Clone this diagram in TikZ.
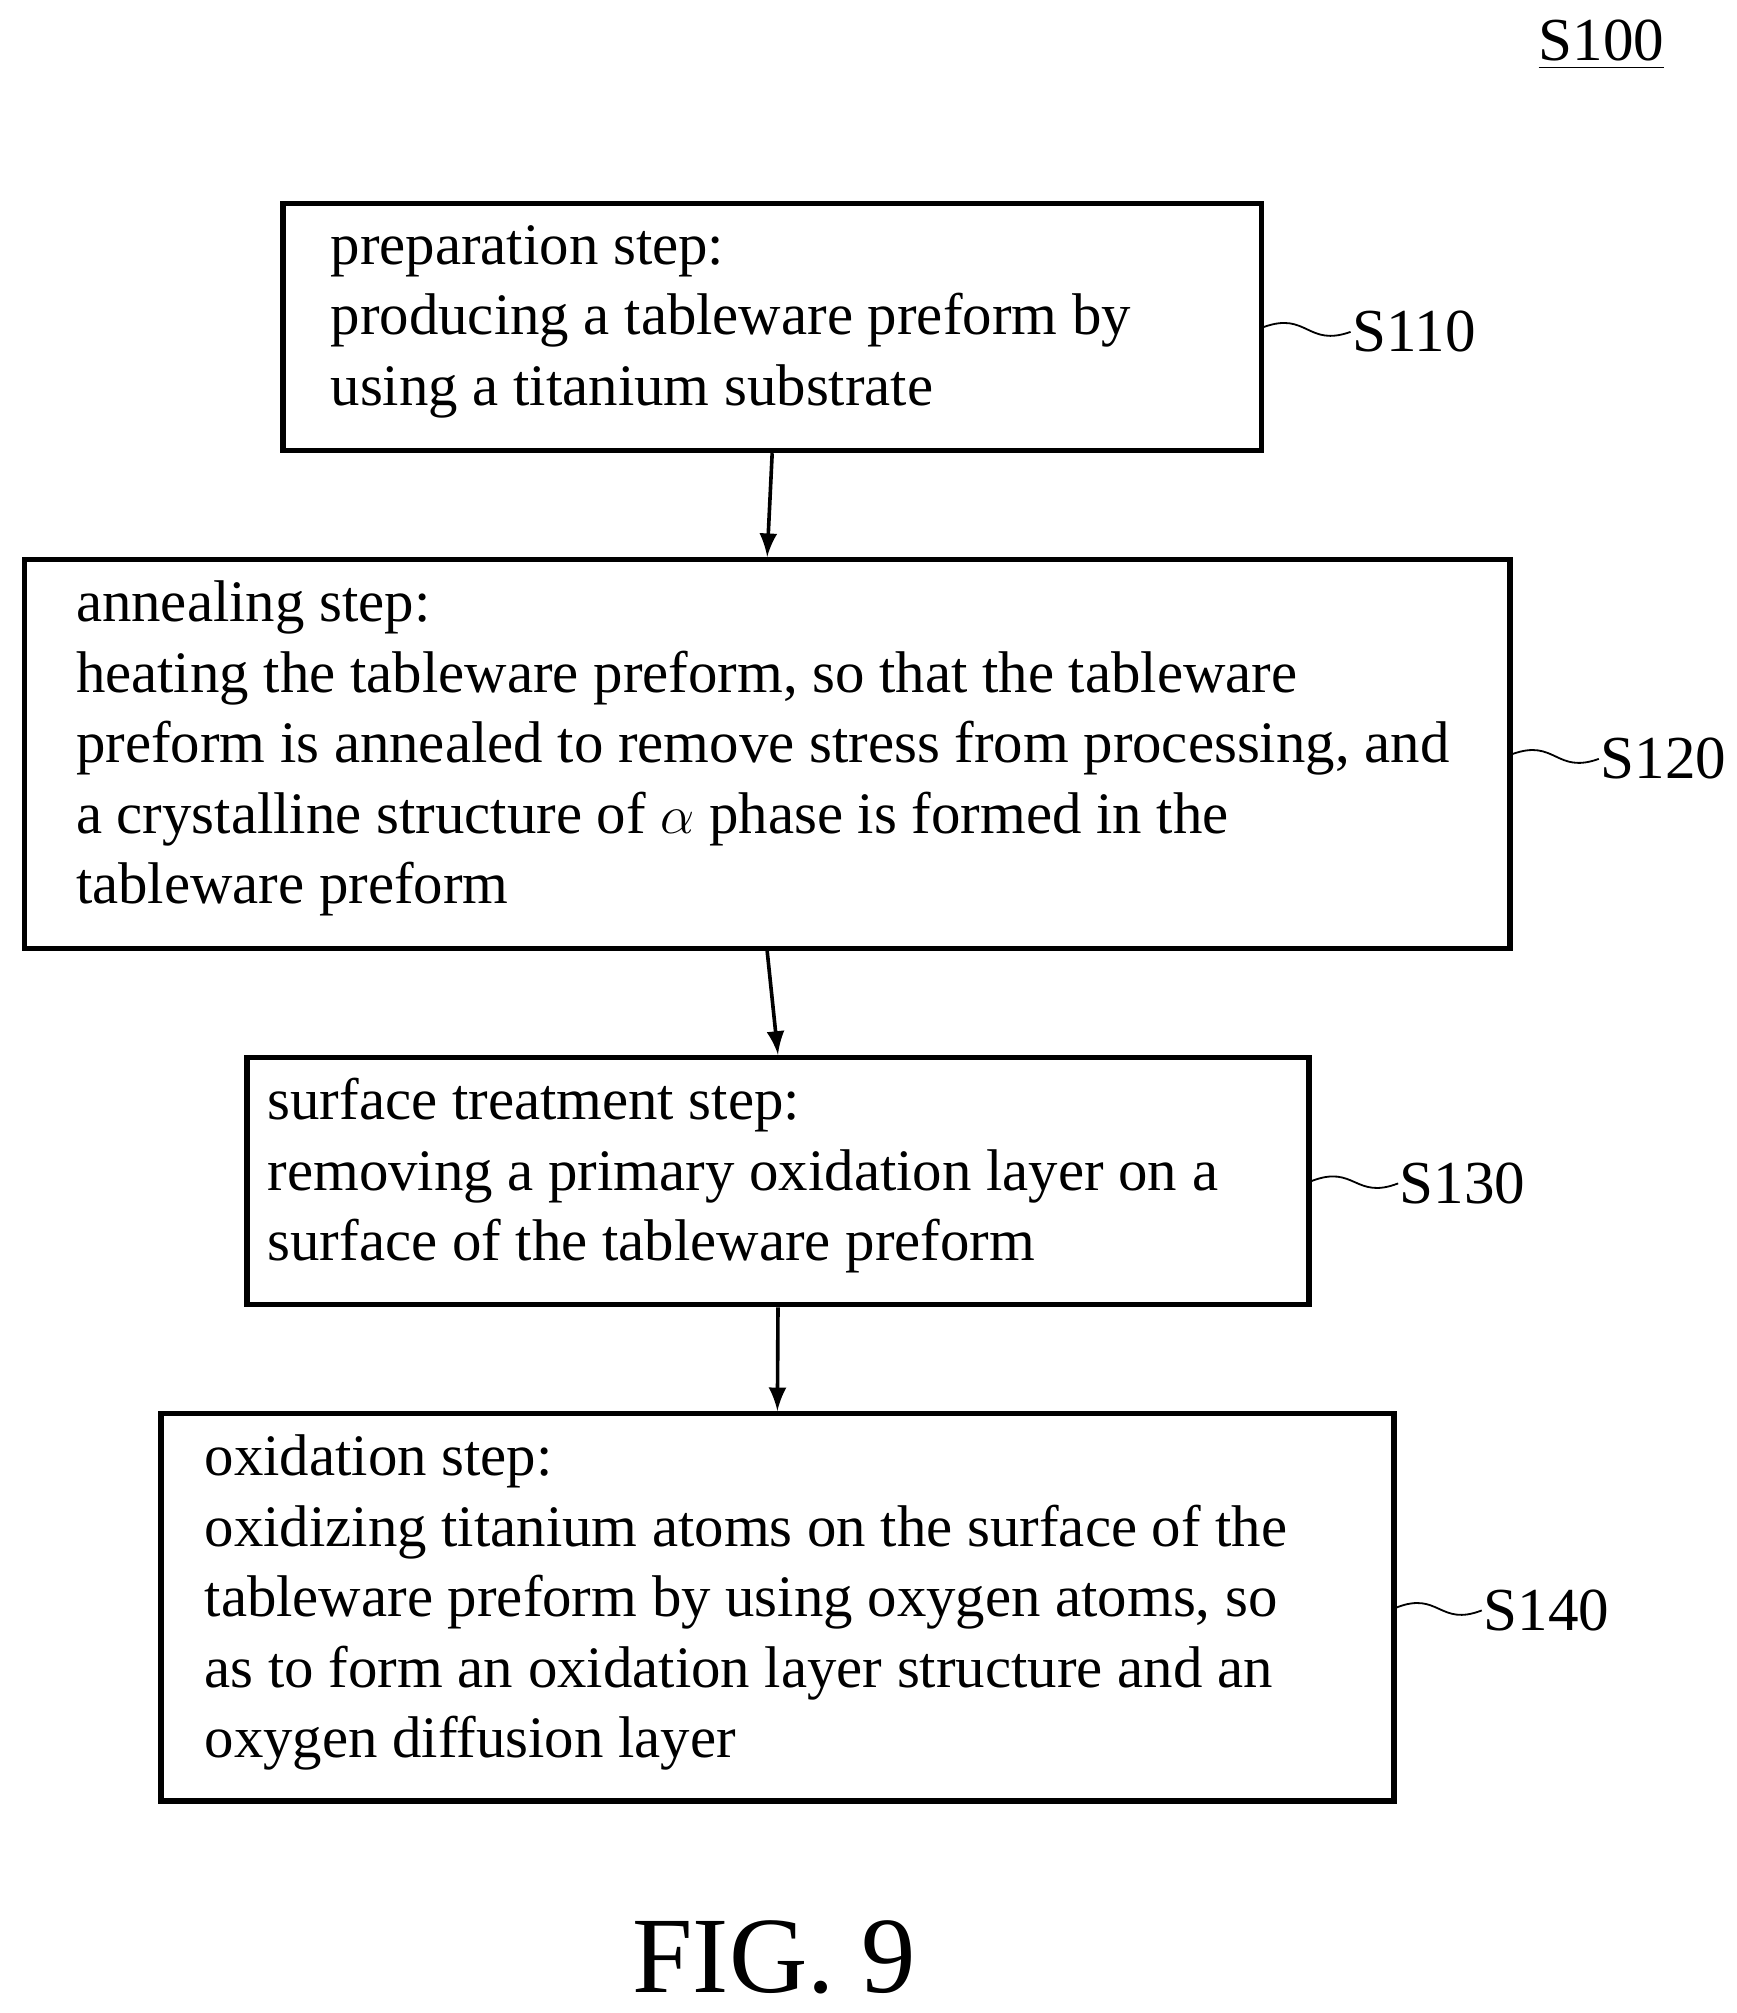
\documentclass[tikz,border=0pt]{standalone}
\usepackage{fontspec}
\setmainfont{Liberation Serif}
\usepackage{tikz}
\usetikzlibrary{calc}

\begin{document}
\begin{tikzpicture}[thick, x=0.01cm, y=-0.01cm,
    stepbox/.style={draw, line width=1.2pt, anchor=north west, inner xsep=0pt, inner ysep=0pt, align=left, font=\fontsize{13}{15.6}\selectfont},
    lbl/.style={anchor=west, font=\fontsize{13.5}{16}\selectfont, inner sep=0pt}]
    \useasboundingbox (0,0) rectangle (1350,1565);

    % boxes
    \node[stepbox, minimum width=7.6cm, minimum height=1.92cm] (B1) at (218,156) {};
    \node[stepbox, minimum width=11.54cm, minimum height=3.02cm] (B2) at (17,433) {};
    \node[stepbox, minimum width=8.25cm, minimum height=1.92cm] (B3) at (190,820) {};
    \node[stepbox, minimum width=9.58cm, minimum height=3.01cm] (B4) at (123,1097) {};

    % texts
    \node[stepbox, draw=none, anchor=west] (T1) at (255,250) {preparation step:\\producing a tableware preform by\\using a titanium substrate};
    \node[stepbox, draw=none, anchor=west] (T2) at (57,582) {annealing step:\\heating the tableware preform, so that the tableware\\preform is annealed to remove stress from processing, and\\a crystalline structure of $\alpha$ phase is formed in the\\tableware preform};
    \node[stepbox, draw=none, anchor=west] (T3) at (206,914) {surface treatment step:\\removing a primary oxidation layer on a\\surface of the tableware preform};
    \node[stepbox, draw=none, anchor=west] (T4) at (157,1246) {oxidation step:\\oxidizing titanium atoms on the surface of the\\tableware preform by using oxygen atoms, so\\as to form an oxidation layer structure and an\\oxygen diffusion layer};

    % labels
    \node[lbl] (L1) at (1050,258) {S110};
    \node[lbl] (L2) at (1243,590) {S120};
    \node[lbl] (L3) at (1087,920) {S130};
    \node[lbl] (L4) at (1152,1252) {S140};
    \node[lbl, anchor=center] (L0) at (1245,35) {\underline{S100}};
    \node[font=\fontsize{24}{26}\selectfont] (fig) at (602,1522) {FIG. 9};

    % arrows
    \draw[-latex] (B1.south) -- (B2.north);
    \draw[-latex] (B2.south) -- (B3.north);
    \draw[-latex] (B3.south) -- (B4.north);

    % wiggles
    \foreach \b/\l in {B1/L1, B2/L2, B3/L3, B4/L4}
        \draw[thin] (\b.east) .. controls ($(\b.east)!0.5!(\l.west)+(0,-14)$) and ($(\b.east)!0.5!(\l.west)+(0,14)$) .. (\l.west);
\end{tikzpicture}
\end{document}
